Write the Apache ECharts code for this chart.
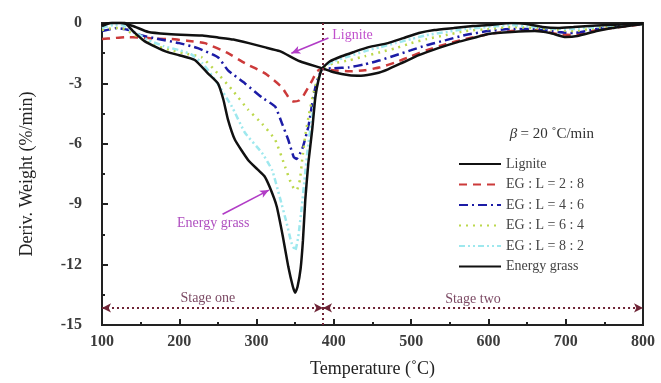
<!DOCTYPE html>
<html><head><meta charset="utf-8">
<script src="https://cdn.jsdelivr.net/npm/echarts@6/dist/echarts.min.js"></script>
<style>html,body{margin:0;padding:0;background:#fff}#c{width:661px;height:383px}</style>
</head><body><div id="c"></div>
<script>
const seriesNames = ['Lignite','EG : L = 2 : 8','EG : L = 4 : 6','EG : L = 6 : 4','EG : L = 8 : 2','Energy grass'];
const xTicks = [100,200,300,400,500,600,700,800];
const yTicks = [0,-3,-6,-9,-12,-15];

const ligniteData = [[100,-0.1],[110,0],[125,0],[140,-0.15],[160,-0.45],[185,-0.55],[210,-0.6],[230,-0.62],[250,-0.72],[270,-0.82],[290,-1.0],[310,-1.2],[330,-1.4],[356,-1.9],[385,-2.25],[400,-2.45],[420,-2.6],[435,-2.62],[455,-2.5],[470,-2.3],[490,-1.95],[510,-1.6],[535,-1.25],[560,-0.95],[580,-0.75],[600,-0.55],[630,-0.45],[660,-0.4],[680,-0.5],[700,-0.7],[715,-0.65],[740,-0.4],[760,-0.25],[780,-0.15],[800,-0.05]];
const eg28Data = [[100,-0.8],[115,-0.75],[130,-0.7],[150,-0.72],[170,-0.78],[190,-0.8],[210,-0.88],[233,-1.0],[263,-1.5],[285,-2.0],[311,-2.5],[333,-3.2],[343,-3.8],[348,-3.9],[355,-3.85],[360,-3.65],[372,-2.85],[378,-2.4],[385,-2.28],[400,-2.35],[420,-2.4],[440,-2.35],[460,-2.2],[480,-1.95],[500,-1.65],[520,-1.35],[545,-1.05],[570,-0.8],[600,-0.55],[630,-0.4],[660,-0.35],[690,-0.55],[710,-0.6],[740,-0.35],[770,-0.2],[800,-0.05]];
const eg46Data = [[100,-0.4],[120,-0.25],[135,-0.35],[150,-0.6],[171,-0.78],[200,-1.0],[224,-1.25],[250,-1.7],[263,-2.35],[285,-3.0],[307,-3.7],[324,-4.15],[333,-5.0],[341,-5.8],[348,-6.65],[352,-6.75],[356,-6.5],[360,-6.15],[367,-5.15],[372,-4.0],[376,-3.2],[380,-2.7],[385,-2.28],[400,-2.25],[420,-2.2],[440,-2.05],[460,-1.85],[480,-1.6],[500,-1.35],[520,-1.1],[545,-0.85],[570,-0.6],[600,-0.4],[630,-0.3],[660,-0.3],[690,-0.45],[710,-0.5],[740,-0.3],[770,-0.15],[800,-0.05]];
const eg64Data = [[100,-0.35],[115,-0.25],[125,-0.25],[140,-0.55],[166,-1.1],[190,-1.35],[205,-1.5],[229,-1.7],[246,-2.35],[268,-3.3],[289,-4.3],[307,-5.0],[324,-5.8],[337,-7.15],[343,-7.8],[348,-8.2],[352,-8.3],[356,-7.8],[359,-6.8],[363,-5.6],[368,-4.5],[374,-3.4],[380,-2.7],[385,-2.25],[400,-2.0],[420,-1.85],[440,-1.65],[460,-1.45],[480,-1.25],[500,-1.0],[520,-0.8],[545,-0.6],[570,-0.4],[600,-0.3],[630,-0.2],[660,-0.25],[690,-0.35],[710,-0.4],[740,-0.25],[770,-0.1],[800,-0.05]];
const eg82Data = [[100,-0.25],[115,-0.1],[125,-0.1],[140,-0.4],[160,-0.85],[180,-1.15],[200,-1.35],[215,-1.55],[230,-2.0],[246,-2.8],[268,-4.15],[285,-5.45],[307,-6.45],[320,-7.3],[330,-8.65],[339,-9.95],[345,-10.9],[350,-11.3],[354,-10.6],[358,-9.3],[362,-7.8],[366,-6.3],[371,-4.9],[376,-3.6],[380,-2.85],[385,-2.25],[400,-1.9],[420,-1.65],[440,-1.4],[460,-1.2],[480,-1.0],[500,-0.8],[520,-0.6],[545,-0.45],[570,-0.3],[600,-0.2],[630,-0.1],[660,-0.2],[690,-0.3],[710,-0.3],[740,-0.2],[770,-0.1],[800,-0.05]];
const grassData = [[100,-0.15],[115,0.05],[128,0.05],[140,-0.4],[155,-0.9],[170,-1.2],[185,-1.45],[200,-1.6],[220,-1.84],[237,-2.5],[250,-3.0],[257,-3.8],[263,-4.8],[272,-5.8],[289,-6.8],[302,-7.3],[310,-7.6],[317,-8.15],[326,-9.1],[334,-10.6],[341,-12.1],[347,-13.1],[350,-13.4],[353,-13.1],[357,-12.2],[360,-10.8],[363,-8.8],[367,-6.95],[372,-5.3],[376,-3.7],[380,-2.85],[385,-2.25],[395,-1.9],[410,-1.65],[425,-1.45],[445,-1.2],[470,-1.0],[490,-0.75],[510,-0.5],[530,-0.35],[555,-0.25],[580,-0.15],[600,-0.1],[630,0],[650,-0.05],[670,-0.2],[690,-0.25],[710,-0.2],[740,-0.12],[770,-0.08],[800,0]];

const stageBoundary = 386;
const stageLevel = -14.15;

const serif = '"Liberation Serif","DejaVu Serif",serif';
const chart = echarts.init(document.getElementById('c'), null, {renderer:'canvas'});

function lineSeries(name, data, color, type, width, z){
  return {name, type:'line', data, symbol:'none', smooth:0.15, z:z||2,
    lineStyle:{color, width, type}, itemStyle:{color}};
}
const maroon = '#6e2436';
const stageMark = {
  silent:true, symbol:['arrow','arrow'], symbolSize:[7,9],
  lineStyle:{color:maroon, type:[2,3], width:2},
  label:{show:false},
  data:[
    [{coord:[100,stageLevel]},{coord:[stageBoundary,stageLevel]}],
    [{coord:[stageBoundary,stageLevel]},{coord:[800,stageLevel]}],
    [{coord:[stageBoundary,0],symbol:'none'},{coord:[stageBoundary,-15],symbol:'none'}]
  ]
};
const arrowMark = {
  silent:true, symbol:['none','arrow'], symbolSize:[6,9],
  lineStyle:{color:'#b13cc6', type:'solid', width:1.6}, label:{show:false},
  data:[
    [{coord:[393,-0.75]},{coord:[345,-1.5]}],
    [{coord:[256,-9.5]},{coord:[316,-8.3]}]
  ]
};

const series = [
  lineSeries(seriesNames[0], ligniteData, '#111', 'solid', 2.5, 3),
  lineSeries(seriesNames[1], eg28Data, '#cc3a3a', [8,6], 2.5),
  lineSeries(seriesNames[2], eg46Data, '#1c1ca6', [9,4,2,4], 2.5),
  lineSeries(seriesNames[3], eg64Data, '#bcd84c', [2,5], 2.5),
  lineSeries(seriesNames[4], eg82Data, '#9ee8ee', [6,3,2,3,2,3], 2.5),
  lineSeries(seriesNames[5], grassData, '#111', 'solid', 2.5, 3)
];
series[0].markLine = stageMark;
series[5].markLine = arrowMark;

const axisLabelStyle = {fontFamily:serif, fontSize:16, fontWeight:'bold', color:'#3c3c3c'};
chart.setOption({
  animation:false,
  grid:{left:102, right:18, top:23, bottom:58, show:true, borderColor:'#222', borderWidth:2, backgroundColor:'transparent'},
  legend:{orient:'vertical', left:453, top:152, itemWidth:42, itemHeight:12, itemGap:6.5,
    itemStyle:{opacity:0, borderWidth:0},
    data:seriesNames, textStyle:{fontFamily:serif, fontSize:14, color:'#444'}},
  xAxis:{type:'value', min:100, max:800, interval:100,
    name:'Temperature (˚C)', nameLocation:'middle', nameGap:35,
    nameTextStyle:{fontFamily:serif, fontSize:18, color:'#222'},
    axisLine:{onZero:false, lineStyle:{color:'#222', width:2}},
    axisTick:{inside:true, length:6, lineStyle:{color:'#222', width:2}},
    minorTick:{show:true, splitNumber:2, length:3, lineStyle:{color:'#222', width:2}},
    splitLine:{show:false},
    axisLabel:Object.assign({margin:9, formatter:v=>xTicks.includes(v)?String(v):''}, axisLabelStyle)},
  yAxis:{type:'value', min:-15, max:0, interval:3,
    name:'Deriv. Weight (%/min)', nameLocation:'middle', nameGap:66,
    nameTextStyle:{fontFamily:serif, fontSize:18, color:'#222'},
    axisLine:{onZero:false, lineStyle:{color:'#222', width:2}},
    axisTick:{inside:true, length:6, lineStyle:{color:'#222', width:2}},
    minorTick:{show:true, splitNumber:2, length:3, lineStyle:{color:'#222', width:2}},
    splitLine:{show:false},
    axisLabel:Object.assign({margin:20, formatter:v=>yTicks.includes(v)?String(v):''}, axisLabelStyle)},
  series
});

function px(p){ return chart.convertToPixel('grid', p); }
const labels = [
  {t:'Lignite', at:[398,-0.6], color:'#c050cc', align:'left', size:14},
  {t:'Energy grass', at:[244,-9.95], color:'#b050c0', align:'center', size:14},
  {t:'Stage one', at:[237,-13.7], color:'#7c4a64', align:'center', size:14},
  {t:'Stage two', at:[580,-13.72], color:'#7c4a64', align:'center', size:14}
];
const graphic = labels.map(l=>{
  const p = px(l.at);
  return {type:'text', x:p[0], y:p[1], z:10, style:{text:l.t, fill:l.color, font:l.size+'px '+serif, textAlign:l.align, textVerticalAlign:'middle'}};
});
const bp = px([682,-5.5]);
graphic.push({type:'text', x:bp[0], y:bp[1], z:10, style:{
  rich:{b:{fontFamily:serif, fontStyle:'italic', fontSize:15, fill:'#333'}, r:{fontFamily:serif, fontSize:15, fill:'#333'}},
  text:'{b|β} {r|= 20 ˚C/min}', textAlign:'center', textVerticalAlign:'middle'}});
chart.setOption({graphic});
</script></body></html>
